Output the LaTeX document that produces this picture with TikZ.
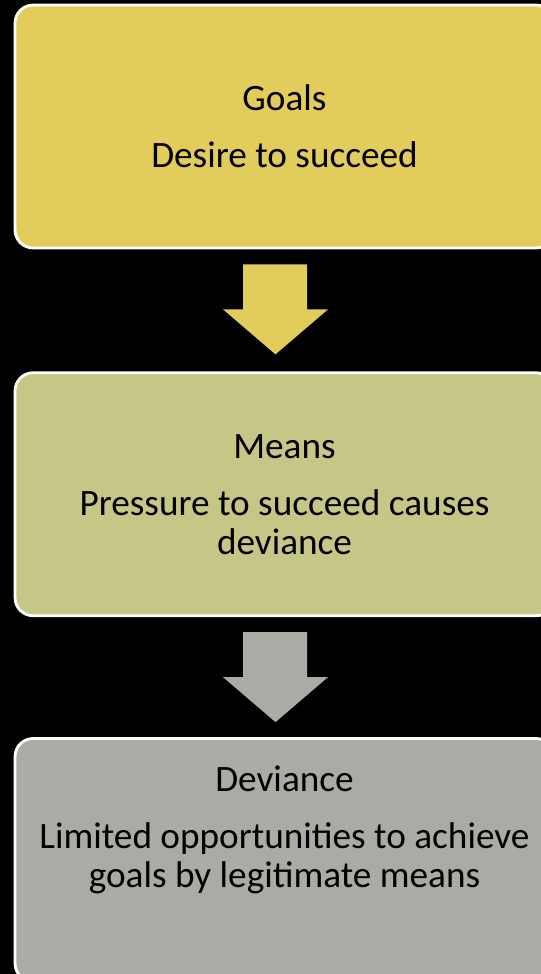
\documentclass[tikz,border=0pt]{standalone}
\usepackage{fontspec}
\setmainfont{Carlito}
\usepackage{xcolor}
\usepackage{tikz}
\usetikzlibrary{positioning, calc}

\definecolor{goalfill}{HTML}{E2CC5C}
\definecolor{meanfill}{HTML}{C6C786}
\definecolor{devfill}{HTML}{AAABA5}

\begin{document}
\begin{tikzpicture}[x=0.02cm, y=-0.02cm,
   stagebox/.style={draw=white, line width=1.6pt, rounded corners=0.36cm, minimum width=10.78cm, minimum height=4.86cm, align=center, text=black, font=\fontsize{21.2}{22.2}\selectfont}]
\useasboundingbox (0,0) rectangle (541,974);
\fill[black] (0,0) rectangle (541,974);

% Stages
\node[stagebox, fill=goalfill] (goals) at (284.5, 126.5) {Goals\\[0.36cm]Desire to succeed};
\node[stagebox, fill=meanfill, below=2.44cm of goals] (means) {Means\\[0.36cm]Pressure to succeed causes\\deviance};
\node[stagebox, fill=devfill, text depth=1.34cm, below=2.4cm of means] (deviance) {Deviance\\[0.36cm]Limited opportunities to achieve\\goals by legitimate means};

% Block arrows
\foreach \from/\col in {goals/goalfill, means/devfill} {
   \fill[\col] ($(\from.south)+(-41.5,15)$) -- ($(\from.south)+(22.5,15)$) -- ($(\from.south)+(22.5,60)$) -- ($(\from.south)+(43.5,60)$) -- ($(\from.south)+(-9,105)$) -- ($(\from.south)+(-61.5,60)$) -- ($(\from.south)+(-41.5,60)$) -- cycle;
}
\end{tikzpicture}
\end{document}
